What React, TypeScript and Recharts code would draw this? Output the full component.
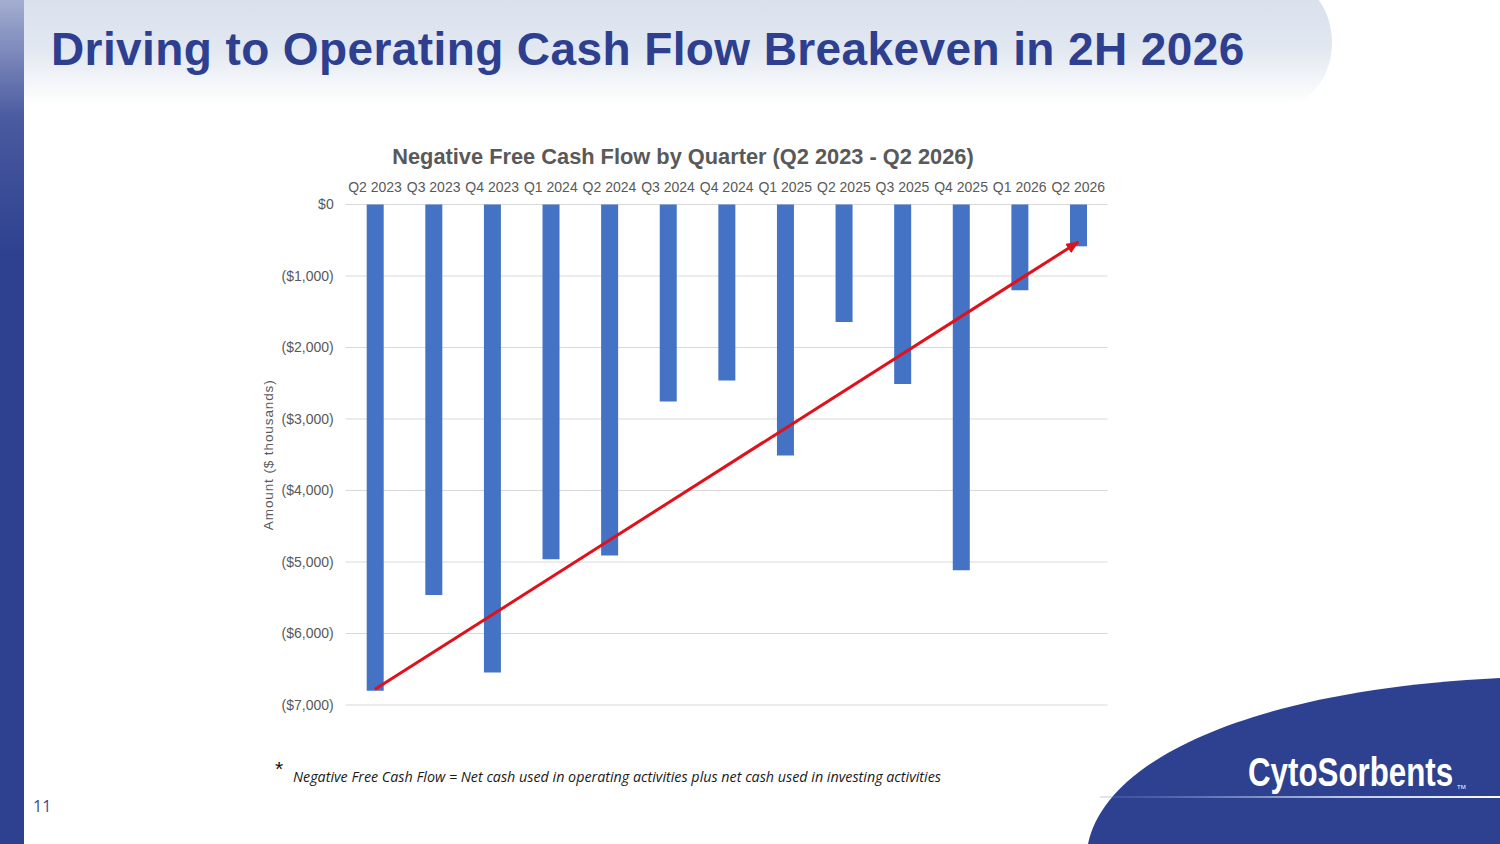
import { ComposedChart, Bar, Line, XAxis, YAxis, CartesianGrid } from 'recharts'

const quarters = [
  'Q2 2023', 'Q3 2023', 'Q4 2023', 'Q1 2024', 'Q2 2024', 'Q3 2024', 'Q4 2024',
  'Q1 2025', 'Q2 2025', 'Q3 2025', 'Q4 2025', 'Q1 2026', 'Q2 2026',
]
// negative free cash flow, $ thousands
const freeCashFlow = [-6800, -5460, -6545, -4960, -4910, -2755, -2460, -3510, -1645, -2510, -5115, -1200, -585]
// red trend arrow: first and last quarter only
const trendLine = [-6780, null, null, null, null, null, null, null, null, null, null, null, -525]
const yTicks = [0, -1000, -2000, -3000, -4000, -5000, -6000, -7000]

const NAVY = '#2E4190'
const FONT = '"Liberation Sans", Arial, sans-serif'

const data = quarters.map((q, i) => ({ quarter: q, fcf: freeCashFlow[i], trend: trendLine[i] }))

function formatY(v: number): string {
  if (v === 0) return '$0'
  return `($${Math.abs(v).toLocaleString('en-US')})`
}

function AxisTitle({ viewBox }: any) {
  if (!viewBox) return null
  const x = viewBox.x + 19
  const y = viewBox.y + viewBox.height / 2
  return (
    <text
      x={x} y={y} transform={`rotate(-90 ${x} ${y})`} textAnchor="middle" dominantBaseline="middle"
      fontSize={13.5} fontFamily={FONT} fill="#595959" letterSpacing={0.9}
    >
      Amount ($ thousands)
    </text>
  )
}

export default function App() {
  return (
    <div style={{ position: 'absolute', left: 0, top: 0, width: 1500, height: 844, overflow: 'hidden', background: '#fff' }}>
      {/* arrow marker for the trend line */}
      <svg width={0} height={0} style={{ position: 'absolute' }}>
        <defs>
          <marker id="arrowHead" markerUnits="userSpaceOnUse" markerWidth={13} markerHeight={11} refX={12} refY={5.5} orient="auto">
            <path d="M0,0 L13,5.5 L0,11 z" fill="#E0111B" />
          </marker>
        </defs>
      </svg>

      {/* header band */}
      <div style={{
        position: 'absolute', left: 24, top: -20, width: 1308, height: 125,
        background: 'linear-gradient(to bottom, #d6deeb 0%, #e2e8f1 55%, #ffffff 100%)',
        borderRadius: '0 60px 60px 0 / 0 75px 75px 0',
      }} />
      <div style={{
        position: 'absolute', left: 0, top: 0, width: 24, height: 844,
        background: `linear-gradient(to bottom, #a3aed0 0%, #4a5aa0 14%, ${NAVY} 30%, ${NAVY} 100%)`,
      }} />
      <div style={{
        position: 'absolute', left: 51, top: 26, fontFamily: FONT, fontWeight: 700, fontSize: 46,
        lineHeight: '46px', letterSpacing: 0.4, color: '#2E3F8F', whiteSpace: 'nowrap',
      }}>
        Driving to Operating Cash Flow Breakeven in 2H 2026
      </div>

      {/* chart title */}
      <div style={{
        position: 'absolute', left: 383, width: 600, top: 146, textAlign: 'center', fontFamily: FONT,
        fontWeight: 700, fontSize: 21.8, lineHeight: '22px', color: '#595959', whiteSpace: 'nowrap',
      }}>
        Negative Free Cash Flow by Quarter (Q2 2023 - Q2 2026)
      </div>

      <div style={{ position: 'absolute', left: 250, top: 140 }}>
        <ComposedChart
          width={900} height={620} data={data}
          margin={{ top: 34.5, right: 42.4, bottom: 55, left: 0 }}
          barCategoryGap="71%"
        >
          <CartesianGrid vertical={false} stroke="#d9d9d9" strokeWidth={1} />
          <XAxis
            dataKey="quarter" orientation="top" height={30} interval={0}
            axisLine={false} tickLine={false} tickSize={0} tickMargin={13}
            tick={{ fontSize: 14, fontFamily: FONT, fill: '#595959' }}
          />
          <YAxis
            domain={[-7000, 0]} ticks={yTicks} width={95.7} interval={0}
            axisLine={false} tickLine={false} tickSize={0} tickMargin={12}
            tickFormatter={formatY}
            tick={{ fontSize: 14, fontFamily: FONT, fill: '#595959' }}
            label={{ content: (props: any) => <AxisTitle {...props} /> }}
          />
          <Bar dataKey="fcf" fill="#4472C4" barSize={17} isAnimationActive={false} />
          <Line
            dataKey="trend" stroke="#E0111B" strokeWidth={3} dot={false} activeDot={false}
            connectNulls markerEnd="url(#arrowHead)" isAnimationActive={false}
          />
        </ComposedChart>
      </div>

      {/* footnote */}
      <div style={{ position: 'absolute', left: 275, top: 758, fontFamily: FONT, fontSize: 21, lineHeight: '21px', color: '#111' }}>*</div>
      <div style={{
        position: 'absolute', left: 293, top: 769, fontFamily: '"Open Sans", sans-serif', fontStyle: 'italic',
        fontSize: 14.3, lineHeight: '16px', color: '#1a1a1a', whiteSpace: 'nowrap',
      }}>
        Negative Free Cash Flow = Net cash used in operating activities plus net cash used in investing activities
      </div>

      {/* page number */}
      <div style={{ position: 'absolute', left: 33, top: 797, fontFamily: '"Open Sans", sans-serif', fontSize: 16, lineHeight: '18px', color: '#3b4a8a' }}>
        11
      </div>

      {/* logo corner */}
      <svg width={1500} height={844} style={{ position: 'absolute', left: 0, top: 0, pointerEvents: 'none' }}>
        <defs>
          <linearGradient id="logoRule" x1="0" x2="1" y1="0" y2="0">
            <stop offset="0%" stopColor="#6f82c4" stopOpacity={0.2} />
            <stop offset="60%" stopColor="#c9d3ee" stopOpacity={0.9} />
            <stop offset="100%" stopColor="#ffffff" stopOpacity={1} />
          </linearGradient>
        </defs>
        <path d="M1088,844 C1105,760 1250,690 1500,678 L1500,844 Z" fill={NAVY} />
        <rect x={1100} y={796} width={400} height={2} fill="url(#logoRule)" />
        <g transform="translate(1248 786) scale(1 1.28)">
          <text x={0} y={0} fontFamily={FONT} fontWeight={700} fontSize={31.3} fill="#fff">
            CytoSorbents
          </text>
        </g>
        <text x={1457} y={789} fontFamily={FONT} fontSize={6} fill="#fff">TM</text>
      </svg>
    </div>
  )
}
